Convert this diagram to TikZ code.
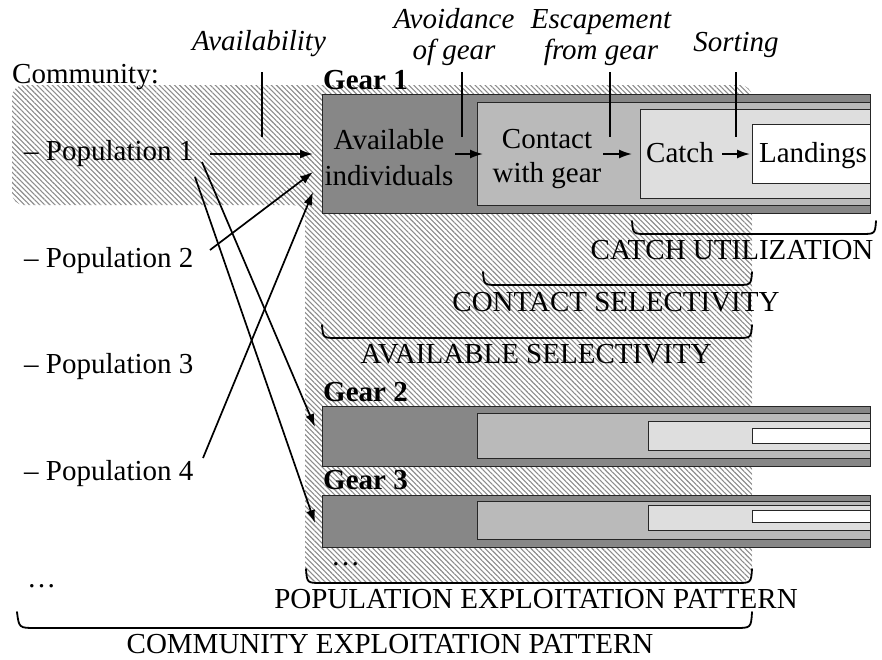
\documentclass[tikz,border=0pt]{standalone}
\usepackage{fontspec}
\setmainfont{Liberation Serif}
\usetikzlibrary{patterns.meta,arrows.meta}
\begin{document}
\begin{tikzpicture}[x=1pt,y=-1pt,
  txt/.style={inner sep=0pt, anchor=base, font=\fontsize{29}{33}\selectfont},
  txtl/.style={txt, anchor=base west},
  itl/.style={txt, font=\fontsize{29}{33}\selectfont\itshape},
  gearlbl/.style={txtl, font=\fontsize{29}{33}\selectfont\bfseries},
  boxbase/.style={draw=black!85, line width=1pt, anchor=north west, inner sep=0pt},
  outerbox/.style={boxbase, fill=black!47},
  contactbox/.style={boxbase, fill=black!27},
  catchbox/.style={boxbase, fill=black!13},
  landbox/.style={boxbase, fill=white},
  arr/.style={-{Latex[length=13pt,width=9pt]}, line width=1.7pt},
  tick/.style={line width=1.7pt},
  brc/.style={line width=1.8pt, line cap=round},
  hatch/.style={pattern={Lines[angle=-45,distance=3.6pt,line width=1.1pt]}, pattern color=black!45}
]
\useasboundingbox (0,0) rectangle (882,659);
\fill[white] (0,0) rectangle (882,659);

% hatched community / gear band
\path[hatch, rounded corners=12pt]
  (12,85) -- (752,85) -- (752,582) -- (305,582) -- (305,205) -- (12,205) -- cycle;

% Gear 1
\node[outerbox, minimum width=548, minimum height=119] (g1) at (322,94) {};
\node[contactbox, minimum width=393, minimum height=103] (g1c) at (477,102) {};
\node[catchbox, minimum width=230, minimum height=89] (g1k) at (640,109) {};
\node[landbox, minimum width=118, minimum height=59] (g1l) at (752,124) {};

% Gear 2
\node[outerbox, minimum width=548, minimum height=60] (g2) at (322,406) {};
\node[contactbox, minimum width=393, minimum height=45] (g2c) at (477,413) {};
\node[catchbox, minimum width=222, minimum height=29] (g2k) at (648,421) {};
\node[landbox, minimum width=118, minimum height=15] (g2l) at (752,428) {};

% Gear 3
\node[outerbox, minimum width=548, minimum height=52] (g3) at (322,495) {};
\node[contactbox, minimum width=393, minimum height=38] (g3c) at (477,501) {};
\node[catchbox, minimum width=222, minimum height=25] (g3k) at (648,505) {};
\node[landbox, minimum width=118, minimum height=12] (g3l) at (752,510) {};

% texts
\node[txtl] (comm) at (12,83) {Community:};
\node[txtl] (pop1) at (24,160) {– Population 1};
\node[txtl] (pop2) at (24,267) {– Population 2};
\node[txtl] (pop3) at (24,373) {– Population 3};
\node[txtl] (pop4) at (24,480) {– Population 4};
\node[txtl] (cdots) at (27,587) {…};

\node[gearlbl] (gl1) at (323,89) {Gear 1};
\node[gearlbl] (gl2) at (323,401) {Gear 2};
\node[gearlbl] (gl3) at (323,489) {Gear 3};
\node[txtl] (gdots) at (331,565) {…};

\node[txt] (av1) at (389,149) {Available};
\node[txt] (av2) at (389,185) {individuals};
\node[txt] (co1) at (547,148) {Contact};
\node[txt] (co2) at (547,182) {with gear};
\node[txt] (ca) at (680,162) {Catch};
\node[txt] (la) at (813,162) {Landings};

\node[itl] (avail) at (259,50) {Availability};
\node[itl] (avo1) at (454,28) {Avoidance};
\node[itl] (avo2) at (454,59) {of gear};
\node[itl] (esc1) at (601,28) {Escapement};
\node[itl] (esc2) at (601,59) {from gear};
\node[itl] (sort) at (736,51) {Sorting};

\node[txt] (cu) at (732,259) {CATCH UTILIZATION};
\node[txt] (cs) at (616,311) {CONTACT SELECTIVITY};
\node[txt] (as) at (536,363) {AVAILABLE SELECTIVITY};
\node[txt] (pe) at (536,608) {POPULATION EXPLOITATION PATTERN};
\node[txt] (ce) at (390,653) {COMMUNITY EXPLOITATION PATTERN};

% connector end points
\coordinate (t1a) at (262,72);  \coordinate (t1b) at (262,137);
\coordinate (t2a) at (462,72);  \coordinate (t2b) at (462,137);
\coordinate (t3a) at (610,72);  \coordinate (t3b) at (610,137);
\coordinate (t4a) at (736,72);  \coordinate (t4b) at (736,137);

\coordinate (av-o) at (455,154); \coordinate (co-i) at (483,154);
\coordinate (co-o) at (603,154); \coordinate (ca-i) at (632,154);
\coordinate (ca-o) at (722,154); \coordinate (la-i) at (750,154);

\coordinate (p1o) at (210,154); \coordinate (g1i1) at (313,154);
\coordinate (p2o) at (210,250); \coordinate (g1i2) at (313,172);
\coordinate (p4o) at (203,458); \coordinate (g1i3) at (313,192);
\coordinate (p1o2) at (202,162); \coordinate (g2i) at (315,427);
\coordinate (p1o3) at (195,177); \coordinate (g3i) at (315,523);

% ticks
\draw[tick] (t1a) -- (t1b);
\draw[tick] (t2a) -- (t2b);
\draw[tick] (t3a) -- (t3b);
\draw[tick] (t4a) -- (t4b);

% arrows in gear 1
\draw[arr] (av-o) -- (co-i);
\draw[arr] (co-o) -- (ca-i);
\draw[arr] (ca-o) -- (la-i);

% populations to gears
\draw[arr] (p1o) -- (g1i1);
\draw[arr] (p2o) -- (g1i2);
\draw[arr] (p4o) -- (g1i3);
\draw[arr] (p1o2) -- (g2i);
\draw[arr] (p1o3) -- (g3i);

% braces
\draw[brc] (632,221) .. controls (633,234) .. (647,234) -- (861,234) .. controls (875,234) .. (876,221);
\draw[brc] (483,272) .. controls (484,285) .. (498,285) -- (737,285) .. controls (751,285) .. (752,272);
\draw[brc] (322,325) .. controls (323,338) .. (337,338) -- (737,338) .. controls (751,338) .. (752,325);
\draw[brc] (306,569) .. controls (307,583) .. (322,583) -- (736,583) .. controls (751,583) .. (752,569);
\draw[brc] (17,612) .. controls (19,628) .. (36,628) -- (735,628) .. controls (751,628) .. (752,612);
\end{tikzpicture}
\end{document}
